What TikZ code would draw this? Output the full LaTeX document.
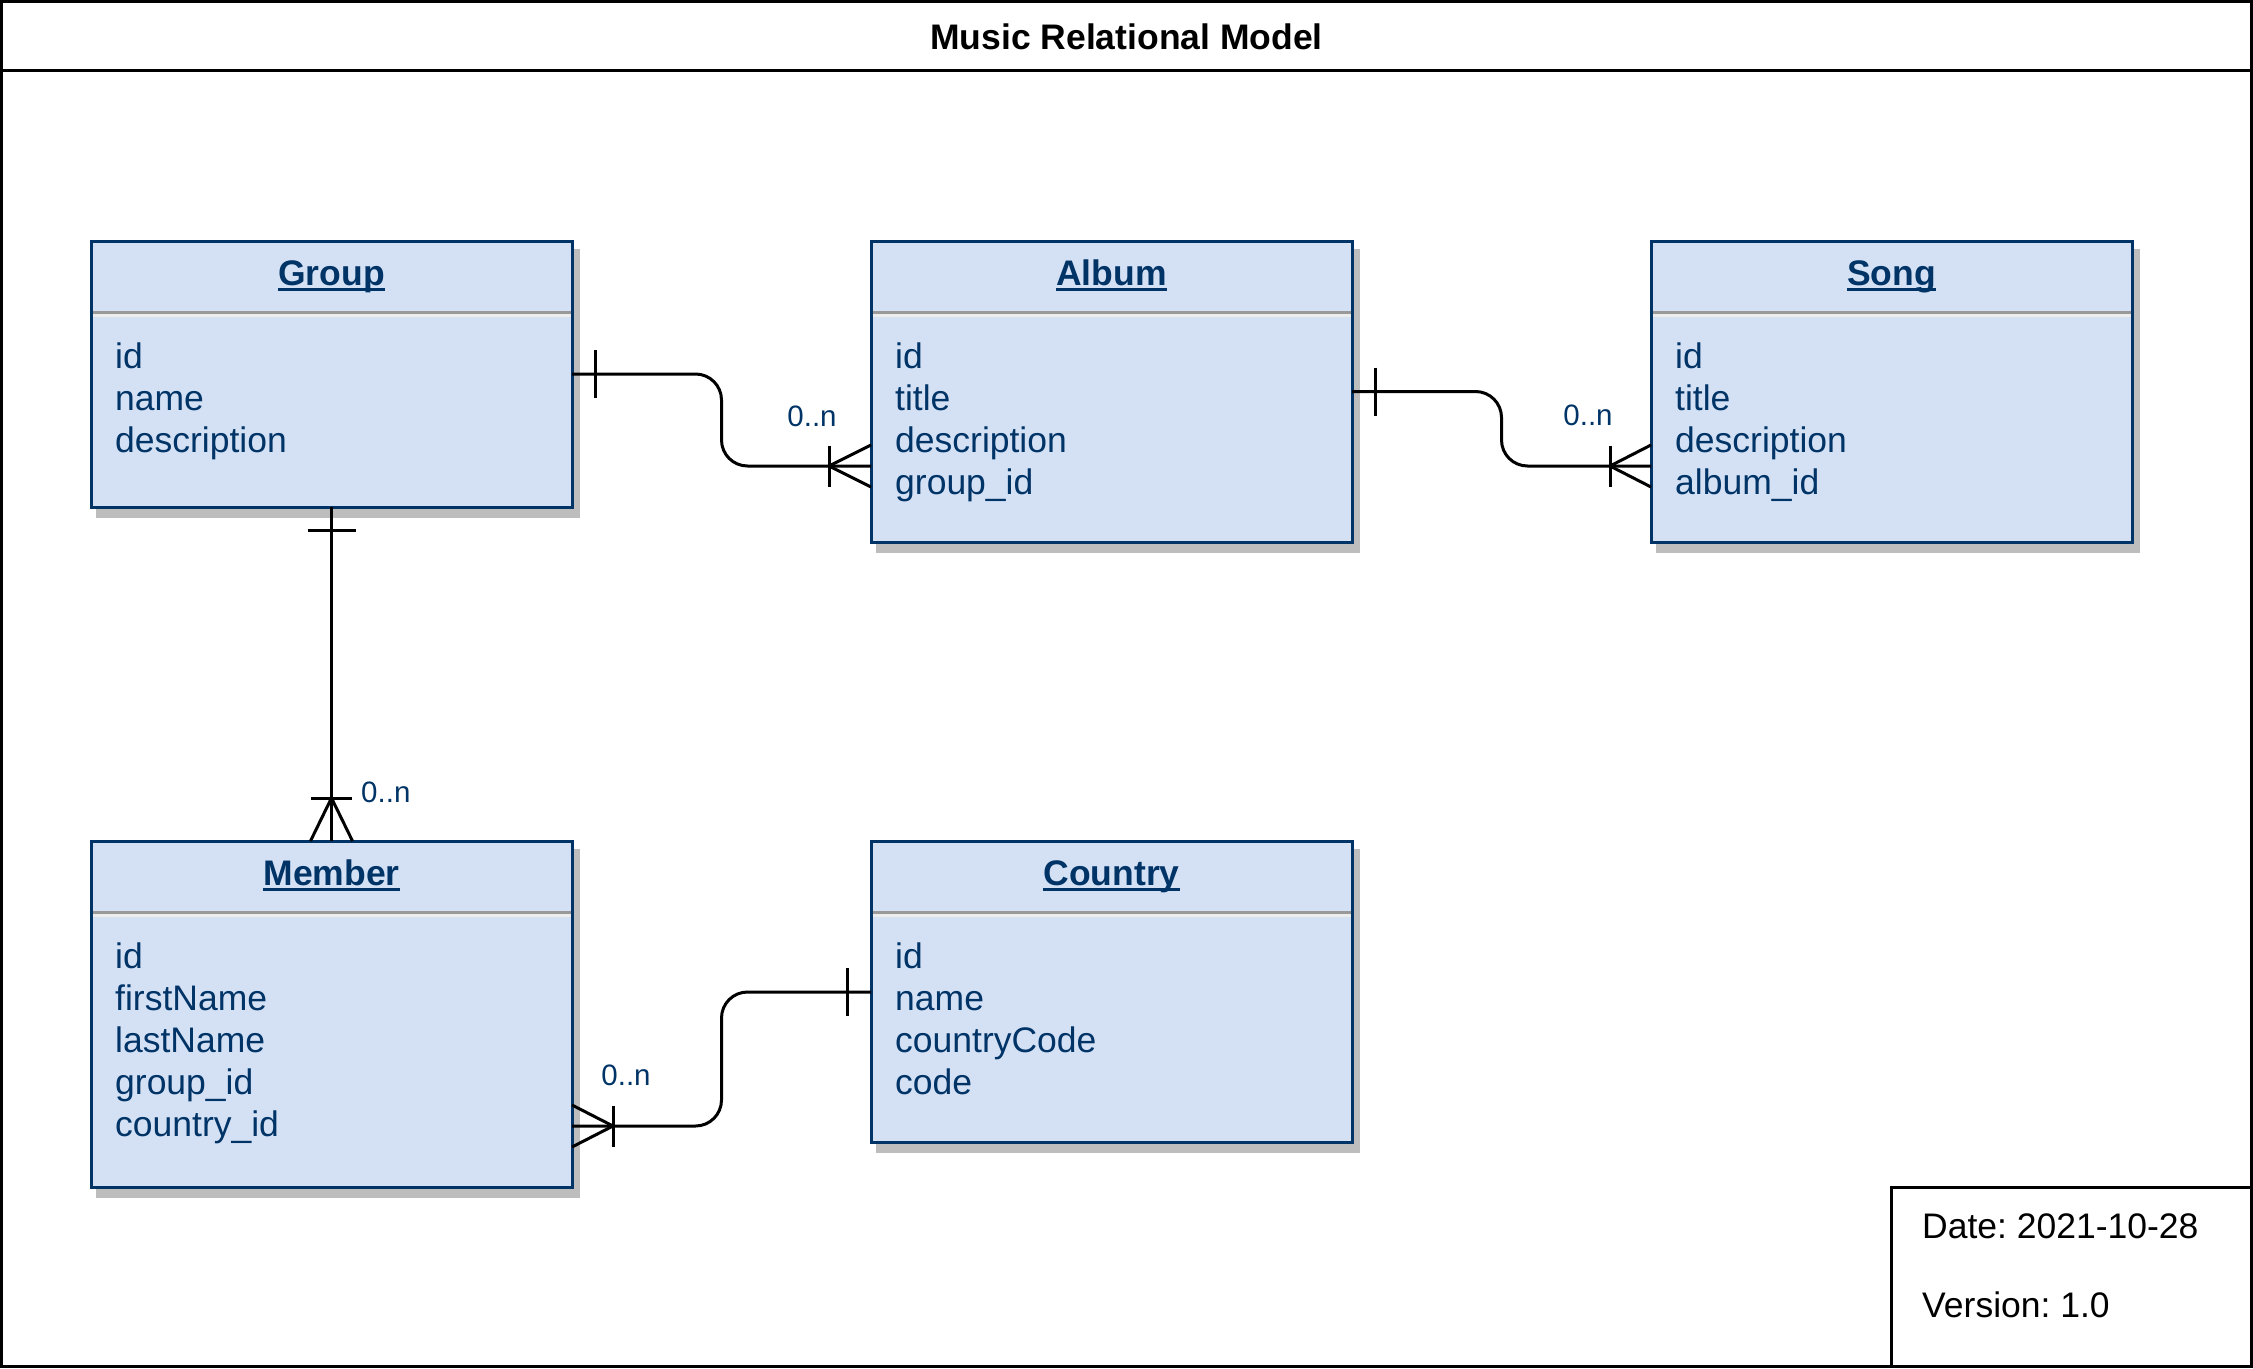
\documentclass[tikz,border=0pt]{standalone}
\usepackage{fontspec}
\setmainfont{Liberation Sans}
\usetikzlibrary{calc,shadows}
\definecolor{efill}{HTML}{D4E1F5}
\definecolor{estroke}{HTML}{003366}
\definecolor{shade}{HTML}{BDBDBD}
\definecolor{sepgray}{HTML}{999999}
\definecolor{seplight}{HTML}{ECECEC}
\frenchspacing

\newcommand\myul[1]{\setbox0\hbox{#1}\rlap{\color{estroke}\rule[-6pt]{\wd0}{3pt}}\box0}

\tikzset{
 entity/.style={draw=estroke, fill=efill, line width=3pt, anchor=north west, inner sep=0pt, outer sep=0pt,
   drop shadow={shadow xshift=6pt, shadow yshift=-9pt, fill=shade, draw=shade, line width=3pt, opacity=1}},
 etitle/.style={anchor=base, font=\fontsize{35.5}{42}\selectfont\bfseries, text=estroke, inner sep=0pt},
 attr/.style={anchor=base west, font=\fontsize{35.5}{42}\selectfont, text=estroke, inner sep=0pt},
 conn/.style={line width=3pt, draw=black},
 card/.style={font=\fontsize{29.5}{34}\selectfont, text=estroke, inner sep=0pt},
 plain/.style={font=\fontsize{35.5}{42}\selectfont, text=black, inner sep=0pt},
}

\newcommand\entitybox[6]{%
 \node[entity, minimum width=481pt, minimum height=#4pt] (#1) at (#2,#3) {};
 \draw[sepgray, line width=2.5pt] ($(#1.north west)+(1.5,71.5)$) -- ($(#1.north east)+(-1.5,71.5)$);
 \draw[seplight, line width=2.5pt] ($(#1.north west)+(1.5,74.5)$) -- ($(#1.north east)+(-1.5,74.5)$);
 \node[etitle] (#1-title) at ($(#1.north)+(0,44)$) {\myul{#5}};
 \foreach \t [count=\i] in {#6} {\node[attr] (#1-a\i) at ($(#1.north west)+(24,{127+42*(\i-1)})$) {\t};}
}

\begin{document}
\begin{tikzpicture}[x=1pt,y=-1pt]
\useasboundingbox (0,0) rectangle (2253,1368);
% frame and title
\draw[line width=3pt] (1.5,1.5) rectangle (2251.5,1366.5);
\draw[line width=3pt] (0,70) -- (2253,70);
\node[plain, font=\fontsize{35.5}{42}\selectfont\bfseries] (title) at (1126.5,37) {Music Relational Model};

% entities
\entitybox{group}{91}{241}{266}{Group}{id,name,description}
\entitybox{album}{871}{241}{301}{Album}{id,title,description,group\_id}
\entitybox{song}{1651}{241}{301}{Song}{id,title,description,album\_id}
\entitybox{member}{91}{841}{346}{Member}{id,firstName,lastName,group\_id,country\_id}
\entitybox{country}{871}{841}{301}{Country}{id,name,countryCode,code}

% Group - Album
\coordinate (ga-e) at ($(album.north west)+(0,225)$);
\coordinate (ga-m) at ($(group.east)!0.5!(ga-e)$);
\draw[conn, rounded corners=26pt] (group.east) -- (group.east -| ga-m) -- (ga-m |- ga-e) -- (ga-e);
\draw[conn] ($(group.east)+(23,-24)$) -- ++(0,48);
\draw[conn] ($(ga-e)+(-42,-20.5)$) -- ++(0,41);
\draw[conn] ($(ga-e)+(0,-21)$) -- ($(ga-e)+(-42,0)$) -- ($(ga-e)+(0,21)$);
\node[card] (l1) at (812,416) {0..n};

% Album - Song
\coordinate (as-e) at ($(song.north west)+(0,225)$);
\coordinate (as-m) at ($(album.east)!0.5!(as-e)$);
\draw[conn, rounded corners=26pt] (album.east) -- (album.east -| as-m) -- (as-m |- as-e) -- (as-e);
\draw[conn] ($(album.east)+(23,-24)$) -- ++(0,48);
\draw[conn] ($(as-e)+(-41,-20.5)$) -- ++(0,41);
\draw[conn] ($(as-e)+(0,-21)$) -- ($(as-e)+(-41,0)$) -- ($(as-e)+(0,21)$);
\node[card] (l2) at (1588,415) {0..n};

% Group - Member
\draw[conn] (group.south) -- (member.north);
\draw[conn] ($(group.south)+(-24,23)$) -- ++(48,0);
\draw[conn] ($(member.north)+(-20.5,-43)$) -- ++(41,0);
\draw[conn] ($(member.north)+(-21,0)$) -- ($(member.north)+(0,-43)$) -- ($(member.north)+(21,0)$);
\node[card, anchor=west] (l3) at (361,792) {0..n};

% Member - Country
\coordinate (mc-s) at ($(member.north east)+(0,285)$);
\coordinate (mc-e) at ($(country.north west)+(0,151)$);
\coordinate (mc-m) at ($(mc-s)!0.5!(mc-e)$);
\draw[conn, rounded corners=26pt] (mc-s) -- (mc-s -| mc-m) -- (mc-m |- mc-e) -- (mc-e);
\draw[conn] ($(mc-s)+(41,-20.5)$) -- ++(0,41);
\draw[conn] ($(mc-s)+(0,-21)$) -- ($(mc-s)+(41,0)$) -- ($(mc-s)+(0,21)$);
\draw[conn] ($(mc-e)+(-24,-24)$) -- ++(0,48);
\node[card] (l4) at (626,1075) {0..n};

% date box
\node[draw=black, line width=3pt, minimum width=360.5pt, minimum height=179.5pt, anchor=north west, inner sep=0pt, outer sep=0pt] (datebox) at (1891,1187) {};
\node[plain, anchor=base west] (date) at (1922,1238) {Date: 2021-10-28};
\node[plain, anchor=base west] (version) at (1922,1317) {Version: 1.0};
\end{tikzpicture}
\end{document}
